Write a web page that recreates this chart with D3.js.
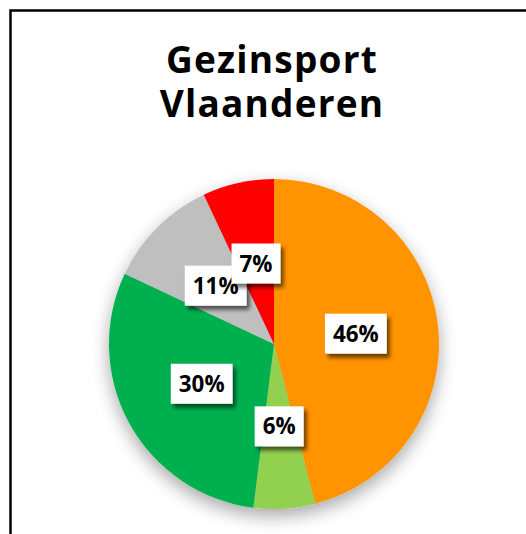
<!DOCTYPE html>
<html>
<head>
<meta charset="utf-8">
<script src="https://cdn.jsdelivr.net/npm/d3@7"></script>
<style>
  html, body { margin: 0; padding: 0; background: #fff; }
  svg { display: block; }
</style>
</head>
<body>
<div id="chart"></div>
<script>
const titleLines = ["Gezinsport", "Vlaanderen"];
const categories = ["A", "B", "C", "D", "E"];
const values = [46, 6, 30, 11, 7];
const colors = ["#FF9300", "#92D050", "#00B050", "#BFBFBF", "#FF0000"];

const W = 526, H = 534;
const svg = d3.select("#chart").append("svg").attr("width", W).attr("height", H);

const defs = svg.append("defs");
const f1 = defs.append("filter").attr("id", "pieShadow")
  .attr("x", "-30%").attr("y", "-30%").attr("width", "160%").attr("height", "160%");
f1.append("feGaussianBlur").attr("in", "SourceAlpha").attr("stdDeviation", 9).attr("result", "b");
f1.append("feOffset").attr("in", "b").attr("dx", 0).attr("dy", 7).attr("result", "o");
f1.append("feComponentTransfer").attr("in", "o").attr("result", "s")
  .append("feFuncA").attr("type", "linear").attr("slope", 0.35);
const m1 = f1.append("feMerge");
m1.append("feMergeNode").attr("in", "s");
m1.append("feMergeNode").attr("in", "SourceGraphic");

const f2 = defs.append("filter").attr("id", "lblShadow")
  .attr("x", "-30%").attr("y", "-30%").attr("width", "160%").attr("height", "180%");
f2.append("feGaussianBlur").attr("in", "SourceAlpha").attr("stdDeviation", 2).attr("result", "b");
f2.append("feOffset").attr("in", "b").attr("dx", 3).attr("dy", 4).attr("result", "o");
f2.append("feComponentTransfer").attr("in", "o").attr("result", "s")
  .append("feFuncA").attr("type", "linear").attr("slope", 0.6);
const m2 = f2.append("feMerge");
m2.append("feMergeNode").attr("in", "s");
m2.append("feMergeNode").attr("in", "SourceGraphic");

// chart border
svg.append("rect").attr("x", 10.5).attr("y", 10.5).attr("width", 540).attr("height", 560)
  .attr("fill", "#fff").attr("stroke", "#000").attr("stroke-width", 2.5);

// title
const title = svg.append("text").attr("text-anchor", "middle")
  .attr("font-family", "'Open Sans', sans-serif").attr("font-weight", 700)
  .attr("font-size", 37).attr("letter-spacing", 1.2).attr("fill", "#000");
title.selectAll("tspan").data(titleLines).join("tspan")
  .attr("x", 272).attr("y", (d, i) => 73 + i * 44).text(d => d);

const cx = 274, cy = 344, R = 165;
const pie = d3.pie().sort(null).value(d => d.v);
const arcs = pie(categories.map((c, i) => ({ c, v: values[i], col: colors[i] })));
const arc = d3.arc().innerRadius(0).outerRadius(R);
const lblArc = d3.arc().innerRadius(R * 0.5).outerRadius(R * 0.5);

const g = svg.append("g").attr("transform", `translate(${cx},${cy})`);
g.append("g").attr("filter", "url(#pieShadow)")
  .selectAll("path").data(arcs).join("path")
  .attr("d", arc).attr("fill", d => d.data.col);

const lg = g.append("g").selectAll("g").data(arcs).join("g")
  .attr("transform", d => `translate(${lblArc.centroid(d)})`);
lg.each(function (d) {
  const sel = d3.select(this);
  const box = sel.append("rect").attr("fill", "#fff").attr("filter", "url(#lblShadow)");
  const t = sel.append("text").attr("text-anchor", "middle").attr("dy", "0.36em")
    .attr("font-family", "'Open Sans', sans-serif").attr("font-weight", 700)
    .attr("font-size", 22.4).attr("fill", "#000").text(d.data.v + "%");
  const w = t.node().getComputedTextLength() + 16;
  box.attr("x", -w / 2).attr("y", -20).attr("width", w).attr("height", 40);
});
</script>
</body>
</html>
